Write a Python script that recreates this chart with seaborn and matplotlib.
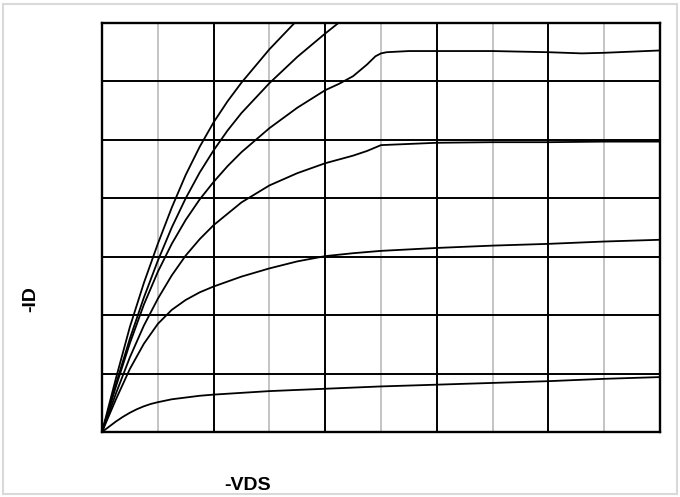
import numpy as np
import pandas as pd
import matplotlib
matplotlib.use("Agg")
import matplotlib.pyplot as plt
import seaborn as sns
from matplotlib.patches import Rectangle

# ---- data (arbitrary units) ----
curve_names = ["A", "B", "C", "D", "E", "F"]

x_A = [0, 0.25, 0.5, 0.75, 1, 1.25, 1.5, 1.75, 2, 2.25, 2.5, 3, 3.5]
y_A = [0, 0.92, 1.8, 2.55, 3.22, 3.84, 4.4, 4.88, 5.3, 5.66, 5.98, 6.55, 7.05]

x_B = [0, 0.25, 0.5, 0.75, 1, 1.25, 1.5, 1.75, 2, 2.25, 2.5, 3, 3.5, 4, 4.5]
y_B = [0, 0.82, 1.6, 2.3, 2.93, 3.5, 4.0, 4.44, 4.82, 5.16, 5.46, 5.97, 6.42, 6.82, 7.2]

x_C = [0, 0.25, 0.5, 0.75, 1, 1.25, 1.5, 1.75, 2, 2.25, 2.5, 3, 3.5, 4, 4.25, 4.5, 4.75, 4.9, 5, 5.1, 5.5, 6, 7, 8, 8.6, 9, 10]
y_C = [0, 0.78, 1.52, 2.18, 2.74, 3.22, 3.63, 3.98, 4.28, 4.55, 4.79, 5.2, 5.55, 5.85, 5.96, 6.09, 6.29, 6.43, 6.48, 6.5, 6.52, 6.52, 6.52, 6.5, 6.48, 6.49, 6.53]

x_D = [0, 0.25, 0.5, 0.75, 1, 1.25, 1.5, 1.75, 2, 2.5, 3, 3.5, 4, 4.5, 4.75, 4.9, 5, 5.5, 6, 7, 8, 9, 10]
y_D = [0, 0.66, 1.28, 1.82, 2.28, 2.68, 3.02, 3.3, 3.54, 3.93, 4.22, 4.43, 4.6, 4.73, 4.81, 4.87, 4.91, 4.93, 4.95, 4.96, 4.96, 4.97, 4.97]

x_E = [0, 0.25, 0.5, 0.75, 1, 1.25, 1.5, 1.75, 2, 2.5, 3, 3.5, 4, 4.5, 5, 6, 7, 8, 9, 10]
y_E = [0, 0.56, 1.08, 1.51, 1.85, 2.09, 2.26, 2.39, 2.49, 2.66, 2.8, 2.92, 3.01, 3.06, 3.1, 3.15, 3.19, 3.22, 3.26, 3.29]

x_F = [0, 0.125, 0.25, 0.375, 0.5, 0.625, 0.75, 0.875, 1, 1.25, 1.5, 1.75, 2, 2.5, 3, 4, 5, 6, 7, 8, 9, 10]
y_F = [0, 0.09, 0.18, 0.26, 0.33, 0.39, 0.44, 0.48, 0.51, 0.56, 0.59, 0.62, 0.64, 0.67, 0.70, 0.74, 0.78, 0.81, 0.84, 0.87, 0.91, 0.94]

x_label = "-VDS"
y_label = "-ID"

# ---- build long table ----
frames = []
for name, xs, ys in zip(curve_names,
                        [x_A, x_B, x_C, x_D, x_E, x_F],
                        [y_A, y_B, y_C, y_D, y_E, y_F]):
    frames.append(pd.DataFrame({"vds": xs, "id": ys, "curve": name}))
df = pd.concat(frames, ignore_index=True)

sns.set_style("white")
plt.rcParams["font.family"] = ["Liberation Sans", "DejaVu Sans"]

fig = plt.figure(figsize=(6.8, 4.97), dpi=100)
ax = fig.add_axes([102 / 680, 65 / 497, 558 / 680, 409 / 497])

sns.lineplot(data=df, x="vds", y="id", hue="curve", units="curve",
             estimator=None, sort=False, palette=["black"] * 6,
             legend=False, linewidth=1.3, ax=ax)

ax.set_xlim(0, 10)
ax.set_ylim(0, 7)
ax.set_xticks(np.arange(0, 11, 2))
ax.set_xticks(np.arange(1, 11, 2), minor=True)
ax.set_yticks(np.arange(0, 8, 1))
ax.tick_params(which="both", length=0, labelbottom=False, labelleft=False)
ax.grid(which="major", color="black", linewidth=1.4)
ax.grid(which="minor", axis="x", color="#c4c4c4", linewidth=1.4)
ax.set_xlabel("")
ax.set_ylabel("")
for s in ax.spines.values():
    s.set_visible(True)
    s.set_color("black")
    s.set_linewidth(1.7)

fig.text(248 / 680, 1 - 485 / 497, x_label, ha="center", va="center",
         fontsize=14, fontweight="bold", color="black")
fig.text(31 / 680, 1 - 299 / 497, y_label, ha="center", va="center",
         rotation=90, fontsize=14, fontweight="bold", color="black")

fig.patches.append(Rectangle((3 / 680, 3 / 497), 674 / 680, 490 / 497,
                             transform=fig.transFigure, fill=False,
                             edgecolor="#d9d9d9", linewidth=1.5))

fig.savefig("out.png", dpi=100)
